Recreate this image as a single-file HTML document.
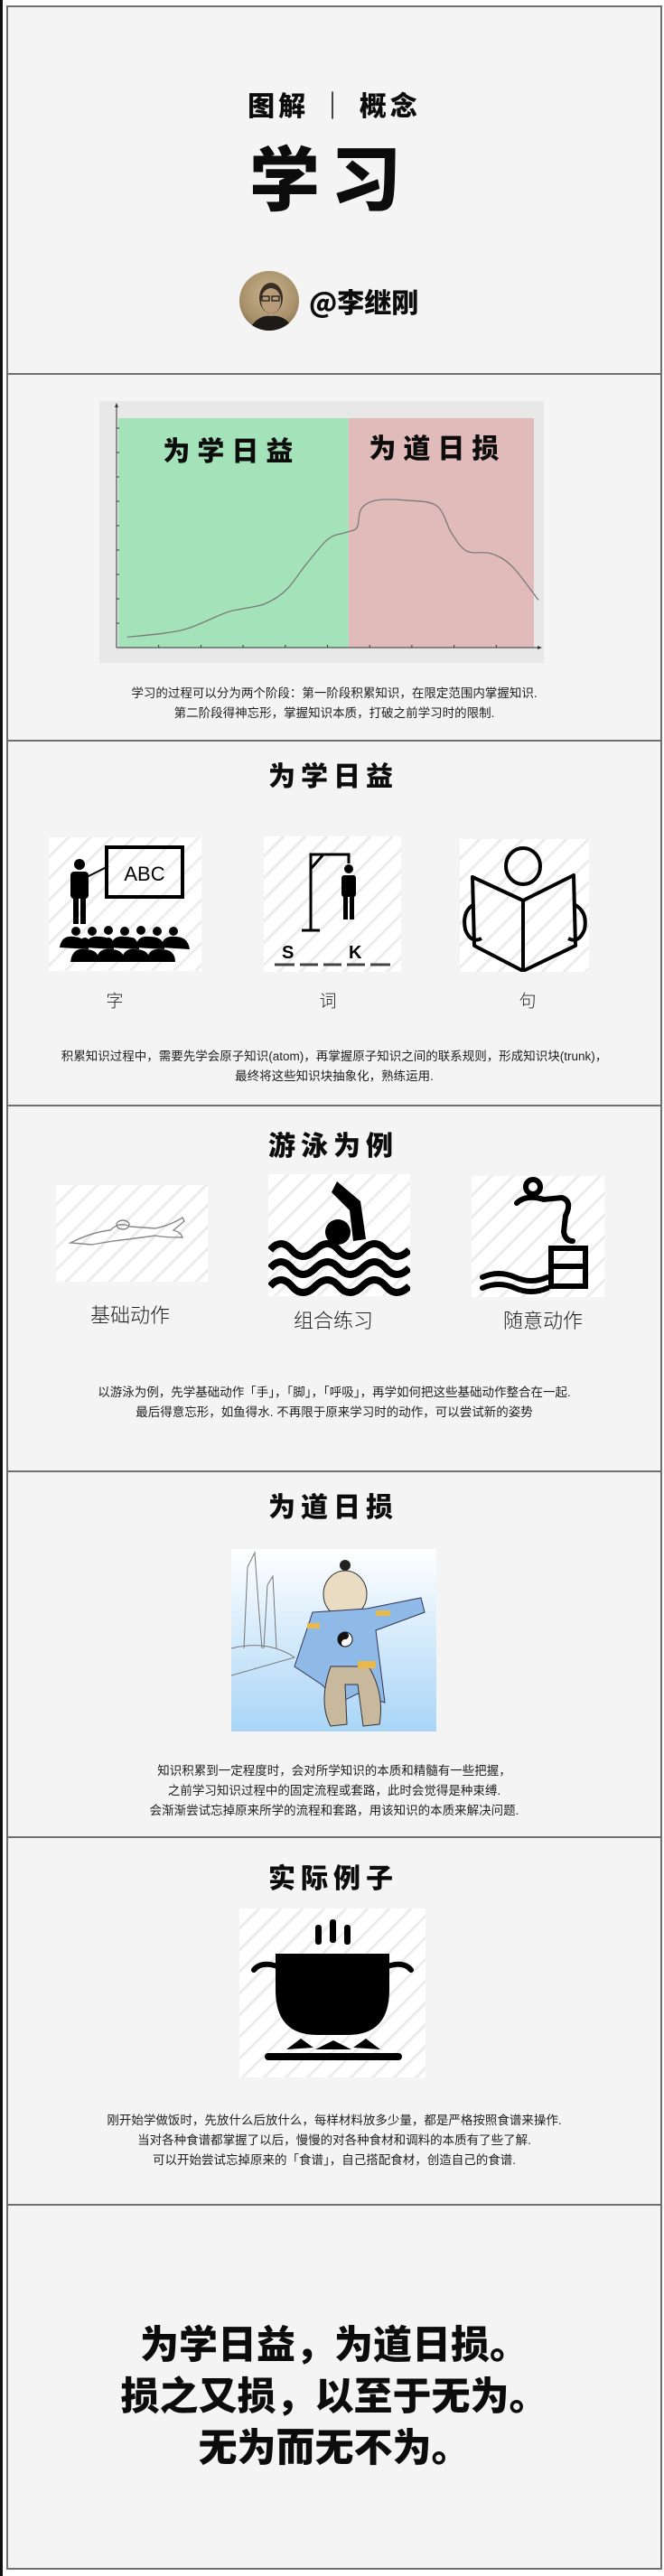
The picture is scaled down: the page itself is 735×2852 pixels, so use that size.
<!DOCTYPE html>
<html lang="zh">
<head>
<meta charset="utf-8">
<style>
*{margin:0;padding:0;box-sizing:border-box}
html,body{width:735px;height:2852px;background:#fff;overflow:hidden}
body{position:relative;font-family:"Liberation Sans","Noto Sans CJK SC",sans-serif;color:#111}
.abs{position:absolute}
.frame{position:absolute;left:7px;width:726px;background:#f4f4f4;border:2px solid #6f6f6f}
.brush{font-family:"Noto Sans CJK SC","WenQuanYi Zen Hei",sans-serif;font-weight:900;color:#0c0c0c;white-space:nowrap}
.cap{position:absolute;left:7px;width:726px;text-align:center;font-family:"Liberation Sans","Noto Sans CJK SC",sans-serif;font-weight:400;font-size:13.5px;line-height:22px;color:#1e1e1e}
.lbl{position:absolute;font-family:"Liberation Sans","Noto Sans CJK SC",sans-serif;font-weight:300;color:#222;transform:translate(-50%,-50%);white-space:nowrap}
.ctr{transform:translate(-50%,-50%)}
.box{position:absolute;background:#fff;overflow:hidden}
.box:before{content:"";position:absolute;inset:0;background:repeating-linear-gradient(135deg,transparent 0 14px,#ececec 14px 17px)}
.box svg{position:absolute;left:0;top:0}
</style>
</head>
<body>
<div class="abs" style="left:0;top:0;width:3px;height:2852px;background:#111"></div>

<!-- Section 1: header -->
<div class="frame" style="top:6px;height:409px"></div>
<div class="abs brush ctr" style="left:370px;top:115px;font-size:30px;letter-spacing:4px">图解 ｜ 概念</div>
<div class="abs brush ctr" style="left:366px;top:194px;font-size:78px;letter-spacing:12px">学习</div>
<div class="abs" style="left:265px;top:300px;width:66px;height:66px;border-radius:50%;background:radial-gradient(circle at 50% 40%,#c9b48e 0,#a8916a 60%,#6d5b40 100%);overflow:hidden">
  <svg width="66" height="66" viewBox="0 0 66 66"><ellipse cx="35" cy="30" rx="13" ry="17" fill="#3a2f25"/><ellipse cx="35" cy="33" rx="11" ry="14" fill="#b89b78"/><path d="M10 66 Q20 48 35 50 Q52 48 60 66Z" fill="#1d1a17"/><rect x="25" y="28" width="8" height="5" fill="none" stroke="#111" stroke-width="1.2"/><rect x="36" y="28" width="8" height="5" fill="none" stroke="#111" stroke-width="1.2"/></svg>
</div>
<div class="abs brush" style="left:342px;top:314px;font-size:30px;line-height:38px">@李继刚</div>

<!-- Section 2: chart -->
<div class="frame" style="top:413px;height:408px"></div>
<svg class="abs" id="chart" style="left:0;top:0" width="735" height="820"></svg>
<div class="cap" style="top:757px">学习的过程可以分为两个阶段：第一阶段积累知识，在限定范围内掌握知识.<br>第二阶段得神忘形，掌握知识本质，打破之前学习时的限制.</div>

<!-- Section 3 -->
<div class="frame" style="top:819px;height:406px"></div>
<div class="abs brush ctr" style="left:369px;top:857px;font-size:30px;letter-spacing:6px">为学日益</div>
<div class="box" style="left:54px;top:927px;width:169px;height:148px">
<svg width="169" height="148" viewBox="0 0 169 148">
<rect x="64" y="11" width="84" height="55" fill="none" stroke="#000" stroke-width="4"/>
<text x="106" y="48" font-family="Liberation Sans" font-size="22" text-anchor="middle" fill="#000">ABC</text>
<circle cx="34" cy="30" r="6" fill="#000"/><rect x="24" y="38" width="20" height="30" rx="4" fill="#000"/><rect x="27" y="66" width="6" height="30" fill="#000"/><rect x="35" y="66" width="6" height="30" fill="#000"/>
<line x1="42" y1="44" x2="66" y2="32" stroke="#000" stroke-width="2"/>
<g fill="#000"><circle cx="30" cy="104" r="5"/><circle cx="48" cy="104" r="5"/><circle cx="66" cy="103" r="5"/><circle cx="84" cy="104" r="5"/><circle cx="102" cy="103" r="5"/><circle cx="120" cy="104" r="5"/><circle cx="138" cy="104" r="5"/>
<path d="M12 122 Q14 108 28 110 Q44 112 44 124Z"/><path d="M40 122 Q42 108 56 110 Q72 110 72 124Z"/><path d="M68 122 Q70 108 84 110 Q100 110 100 124Z"/><path d="M96 122 Q98 108 112 110 Q128 110 128 124Z"/><path d="M124 122 Q126 108 140 110 Q154 110 156 124Z"/>
<circle cx="40" cy="116" r="5"/><circle cx="66" cy="116" r="5"/><circle cx="92" cy="116" r="5"/><circle cx="118" cy="116" r="5"/>
<path d="M24 138 Q26 122 40 124 Q56 124 56 138Z"/><path d="M52 138 Q54 122 68 124 Q84 124 84 138Z"/><path d="M80 138 Q82 122 96 124 Q112 124 112 138Z"/><path d="M108 138 Q110 122 124 124 Q140 124 140 138Z"/></g>
</svg></div>
<div class="box" style="left:292px;top:926px;width:152px;height:150px">
<svg width="152" height="150" viewBox="0 0 152 150">
<g stroke="#000" stroke-width="3" fill="none"><path d="M52 104V20H94V30"/><path d="M52 36L66 20"/><path d="M42 104H62"/></g>
<circle cx="94" cy="36" r="5" fill="#000"/><rect x="86" y="43" width="16" height="24" rx="3" fill="#000"/><rect x="88" y="64" width="5" height="28" fill="#000"/><rect x="95" y="64" width="5" height="28" fill="#000"/>
<text x="20" y="135" font-family="Liberation Sans" font-weight="700" font-size="20" fill="#000">S</text><text x="94" y="135" font-family="Liberation Sans" font-weight="700" font-size="20" fill="#000">K</text>
<g stroke="#444" stroke-width="3"><line x1="12" y1="142" x2="34" y2="142"/><line x1="40" y1="142" x2="60" y2="142"/><line x1="66" y1="142" x2="86" y2="142"/><line x1="92" y1="142" x2="112" y2="142"/><line x1="118" y1="142" x2="140" y2="142"/></g>
</svg></div>
<div class="box" style="left:509px;top:929px;width:143px;height:147px">
<svg width="143" height="147" viewBox="0 0 143 147">
<g stroke="#000" stroke-width="4" fill="none" stroke-linejoin="round"><ellipse cx="70" cy="30" rx="19" ry="20"/><path d="M14 42 L70 68 L126 40 L128 118 L70 146 L16 118Z"/><path d="M70 68 L70 146"/><path d="M16 72 Q2 80 6 100 Q12 116 24 110"/><path d="M126 72 Q142 80 138 100 Q132 116 120 110"/></g>
</svg></div>
<div class="lbl" style="left:127px;top:1107px;font-size:19px">字</div>
<div class="lbl" style="left:363px;top:1107px;font-size:19px">词</div>
<div class="lbl" style="left:584px;top:1107px;font-size:19px">句</div>
<div class="cap" style="top:1159px">积累知识过程中，需要先学会原子知识(atom)，再掌握原子知识之间的联系规则，形成知识块(trunk)，<br>最终将这些知识块抽象化，熟练运用.</div>

<!-- Section 4 -->
<div class="frame" style="top:1223px;height:407px"></div>
<div class="abs brush ctr" style="left:369px;top:1266px;font-size:30px;letter-spacing:6px">游泳为例</div>
<div class="box" style="left:62px;top:1312px;width:168px;height:107px">
<svg width="168" height="107" viewBox="0 0 168 107"><g stroke="#888" stroke-width="1.4" fill="none"><path d="M16 64 Q40 52 60 50 Q70 40 82 46 L110 48 Q128 44 140 36 L142 40 L130 50 Q138 52 140 58 Q120 58 110 56 L80 60 Q60 62 40 66 Z"/><ellipse cx="74" cy="44" rx="7" ry="5"/></g></svg></div>
<div class="box" style="left:297px;top:1300px;width:157px;height:135px">
<svg width="157" height="135" viewBox="0 0 157 135"><path d="M76 8 L102 30 L108 72 L94 74 L90 40 L70 20Z" fill="#000"/><circle cx="77" cy="64" r="14" fill="#000"/>
<g stroke="#000" stroke-width="8" fill="none"><path d="M2 84 Q14 70 26 84 T52 84 T78 84 T104 84 T130 84 T156 84"/><path d="M2 104 Q14 90 26 104 T52 104 T78 104 T104 104 T130 104 T156 104"/><path d="M2 124 Q14 110 26 124 T52 124 T78 124 T104 124 T130 124 T156 124"/></g></svg></div>
<div class="box" style="left:522px;top:1302px;width:147px;height:134px">
<svg width="147" height="134" viewBox="0 0 147 134"><g stroke="#000" stroke-width="6" fill="none" stroke-linecap="round"><circle cx="68" cy="12" r="8"/><path d="M50 30 Q60 20 80 26 L100 24 Q112 28 104 44 L102 62 Q104 72 112 72"/><rect x="88" y="80" width="38" height="42"/><path d="M88 100 H126"/><path d="M12 112 Q30 104 48 112 T84 112"/><path d="M12 124 Q30 116 48 124 T84 124"/></g></svg></div>
<div class="lbl" style="left:144px;top:1455px;font-size:22px">基础动作</div>
<div class="lbl" style="left:369px;top:1461px;font-size:22px">组合练习</div>
<div class="lbl" style="left:601px;top:1461px;font-size:22px">随意动作</div>
<div class="cap" style="top:1531px">以游泳为例，先学基础动作「手」，「脚」，「呼吸」，再学如何把这些基础动作整合在一起.<br>最后得意忘形，如鱼得水. 不再限于原来学习时的动作，可以尝试新的姿势</div>

<!-- Section 5 -->
<div class="frame" style="top:1628px;height:407px"></div>
<div class="abs brush ctr" style="left:369px;top:1666px;font-size:30px;letter-spacing:6px">为道日损</div>
<div class="abs" style="left:256px;top:1715px;width:227px;height:202px;background:linear-gradient(180deg,#fff 0%,#d8ecfb 45%,#a9d5f7 100%);overflow:hidden">
<svg width="227" height="202" viewBox="0 0 227 202"><g stroke="#777" fill="none" stroke-width="1"><path d="M14 110 L18 20 L26 4 L30 60 L34 110"/><path d="M36 110 L40 40 L46 30 L50 110"/><path d="M0 110 Q40 100 70 120 L0 140"/></g>
<circle cx="126" cy="18" r="6" fill="#222"/><ellipse cx="126" cy="50" rx="24" ry="26" fill="#e9dcc3" stroke="#333"/><path d="M90 70 L150 66 L210 54 L214 70 L160 90 L170 170 L140 160 L120 170 L100 150 L70 130Z" fill="#8fb9e6" stroke="#335"/>
<path d="M110 130 Q96 170 110 196 L128 194 L126 150 L140 150 L146 196 L164 194 Q170 160 152 130Z" fill="#c8b89d" stroke="#333"/><circle cx="126" cy="100" r="8" fill="#fff" stroke="#111"/><path d="M126 92 A4 4 0 0 1 126 100 A4 4 0 0 0 126 108 A8 8 0 0 1 126 92Z" fill="#111"/>
<rect x="160" y="68" width="16" height="6" fill="#e8b84a"/><rect x="84" y="82" width="14" height="6" fill="#e8b84a"/><rect x="140" y="124" width="20" height="8" fill="#e8b84a"/></svg></div>
<div class="cap" style="top:1950px">知识积累到一定程度时，会对所学知识的本质和精髓有一些把握，<br>之前学习知识过程中的固定流程或套路，此时会觉得是种束缚.<br>会渐渐尝试忘掉原来所学的流程和套路，用该知识的本质来解决问题.</div>

<!-- Section 6 -->
<div class="frame" style="top:2033px;height:409px"></div>
<div class="abs brush ctr" style="left:369px;top:2077px;font-size:30px;letter-spacing:6px">实际例子</div>
<div class="box" style="left:265px;top:2113px;width:206px;height:187px">
<svg width="206" height="187" viewBox="0 0 206 187"><g fill="#000"><rect x="84" y="18" width="7" height="22" rx="3"/><rect x="100" y="12" width="7" height="26" rx="3"/><rect x="116" y="18" width="7" height="22" rx="3"/>
<path d="M40 50 H166 V90 Q166 140 120 140 H86 Q40 140 40 90Z"/><path d="M52 156 L68 144 L82 154Z"/><path d="M84 156 L104 146 L124 156Z"/><path d="M126 154 L140 144 L156 156Z"/><rect x="28" y="160" width="152" height="8" rx="4"/></g>
<g stroke="#000" stroke-width="6" fill="none" stroke-linecap="round"><path d="M42 64 Q24 58 16 68"/><path d="M164 64 Q182 58 190 68"/></g></svg></div>
<div class="cap" style="top:2337px">刚开始学做饭时，先放什么后放什么，每样材料放多少量，都是严格按照食谱来操作.<br>当对各种食谱都掌握了以后，慢慢的对各种食材和调料的本质有了些了解.<br>可以开始尝试忘掉原来的「食谱」，自己搭配食材，创造自己的食谱.</div>

<!-- Section 7 -->
<div class="frame" style="top:2440px;height:405px"></div>
<div class="abs brush" style="left:7px;top:2565px;width:726px;text-align:center;font-size:43px;line-height:57px">为学日益，为道日损。<br>损之又损，以至于无为。<br>无为而无不为。</div>

<script>
const xs = [0.25,1.16,1.73,2.59,2.95,3.52,4.02,4.52,5.02,5.45,5.70,5.80,6.16,6.87,7.59,7.94,8.30,8.87,9.37,10.0];
const ys = [0.43,0.60,0.81,1.43,1.58,1.80,2.36,3.47,4.46,4.73,4.93,5.69,6.04,6.04,5.81,4.70,3.96,3.86,3.34,1.95];
const xTicks = [1,2,3,4,5,6,7,8,9];
const yTicks = [1,2,3,4,5,6,7,8,9];
const phaseSplit = [5.5];
const phaseLabels = ["为学日益","为道日损"];

const NS = "http://www.w3.org/2000/svg";
const svg = document.getElementById('chart');
const X0 = 129, XU = 46.7, Y0 = 717, YU = 27;
const sx = v => X0 + v * XU;
const sy = v => Y0 - v * YU;
function mk(tag, attrs){const e=document.createElementNS(NS,tag);for(const k in attrs)e.setAttribute(k,attrs[k]);svg.appendChild(e);return e;}

const bg = mk('rect',{x:110,y:444,width:492,height:290,fill:'#e8e8e8'});


const g1 = mk('rect',{x:131,y:463,width:sx(phaseSplit[0])-131,height:Y0-463,fill:'#a4e2b9'});


const r1 = mk('rect',{x:sx(phaseSplit[0]),y:463,width:591-sx(phaseSplit[0]),height:Y0-463,fill:'#e1bbb9'});



const ya = mk('line',{x1:X0,y1:Y0,x2:X0,y2:448,stroke:'#333','stroke-width':1});


const xa = mk('line',{x1:X0,y1:Y0,x2:598,y2:Y0,stroke:'#333','stroke-width':1});


mk('path',{d:'M127 451 L129 446 L131 451Z',fill:'#333'});
mk('path',{d:'M595 715 L600 717 L595 719Z',fill:'#333'});
yTicks.forEach(t=>{const l=mk('line',{x1:X0,y1:sy(t),x2:X0+3,y2:sy(t),stroke:'#333'});

});
xTicks.forEach(t=>{const l=mk('line',{x1:sx(t),y1:Y0,x2:sx(t),y2:Y0-3,stroke:'#333'});

});

const P = xs.map((x,i)=>[sx(x),sy(ys[i])]);
let d = 'M'+P[0][0]+' '+P[0][1];
for(let i=0;i<P.length-1;i++){
  const p0=P[Math.max(0,i-1)],p1=P[i],p2=P[i+1],p3=P[Math.min(P.length-1,i+2)];
  const c1=[p1[0]+(p2[0]-p0[0])/6,p1[1]+(p2[1]-p0[1])/6];
  const c2=[p2[0]-(p3[0]-p1[0])/6,p2[1]-(p3[1]-p1[1])/6];
  d+=' C'+c1[0]+' '+c1[1]+' '+c2[0]+' '+c2[1]+' '+p2[0]+' '+p2[1];
}
const line = mk('path',{d:d,fill:'none',stroke:'#7a7a7a','stroke-width':1.3});



const lx = [(131+sx(phaseSplit[0]))/2-2, (sx(phaseSplit[0])+591)/2-4];
const lyy = [510, 507];
phaseLabels.forEach((s,i)=>{const t=mk('text',{x:lx[i],y:lyy[i],'text-anchor':'middle','font-family':'Noto Sans CJK SC, sans-serif','font-weight':900,'font-size':30,'letter-spacing':8,fill:'#0c0c0c'});t.textContent=s;

});
</script>
</body>
</html>
